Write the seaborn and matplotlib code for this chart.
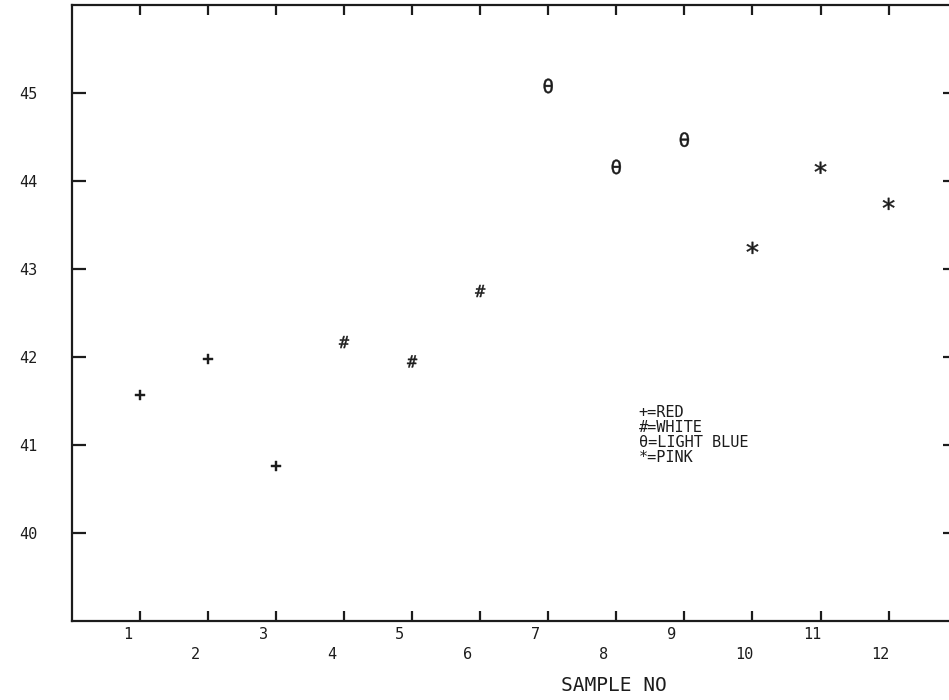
import pandas as pd
import matplotlib
matplotlib.use('Agg')
import matplotlib.pyplot as plt
import matplotlib.transforms as mtransforms
import seaborn as sns

# values
sample_no = [1, 2, 3, 4, 5, 6, 7, 8, 9, 10, 11, 12]
reading = [41.57, 41.98, 40.76, 42.17, 41.95, 42.75, 45.08, 44.16, 44.47, 43.24, 44.15, 43.74]
colour = ['RED', 'RED', 'RED', 'WHITE', 'WHITE', 'WHITE',
          'LIGHT BLUE', 'LIGHT BLUE', 'LIGHT BLUE', 'PINK', 'PINK', 'PINK']
symbols = ['+', '#', 'θ', '*']
colour_names = ['RED', 'WHITE', 'LIGHT BLUE', 'PINK']
y_ticks = [40, 41, 42, 43, 44, 45]

df = pd.DataFrame({'sample': sample_no, 'reading': reading, 'colour': colour})

sns.set_theme(style='white')
plt.rcParams['font.family'] = ['DejaVu Sans Mono', 'DejaVu Sans']
ink = '#1c1c1c'

# glyph markers, like the old plotter output
marker_map = {'RED': r'$\mathregular{+}$', 'WHITE': r'$\mathregular{\#}$',
              'LIGHT BLUE': r'$\mathregular{θ}$', 'PINK': r'$\mathregular{*}$'}
size_map = {'RED': 55, 'WHITE': 75, 'LIGHT BLUE': 110, 'PINK': 75}

fig = plt.figure(figsize=(9.49, 7.0), dpi=100)
ax = fig.add_axes([71.7 / 949, 1 - 621 / 700, 885 / 949, 616 / 700])

sns.scatterplot(data=df, x='sample', y='reading', style='colour', markers=marker_map,
                size='colour', sizes=size_map, color=ink, edgecolor=ink, linewidth=0.3,
                legend=False, ax=ax)

ax.set_xlim(0, 13)
ax.set_ylim(39, 46)
ax.set_xticks(sample_no)
ax.set_yticks(y_ticks)
ax.set_yticklabels([str(v) for v in y_ticks])

for side in ['left', 'right', 'top', 'bottom']:
    ax.spines[side].set_visible(True)
    ax.spines[side].set_color(ink)
    ax.spines[side].set_linewidth(1.6)

ax.tick_params(direction='in', bottom=True, left=True, top=True, right=True,
               length=7, width=1.6, color=ink, labelcolor=ink, labelsize=11)
ax.tick_params(axis='y', pad=25, length=10)
ax.tick_params(axis='x', pad=4)

# staggered x labels, shifted left of their ticks
for i, lab in enumerate(ax.get_xticklabels()):
    lab.set_ha('left')
    dy = -0.2 if i % 2 == 1 else 0.0
    lab.set_transform(lab.get_transform() + mtransforms.ScaledTranslation(-0.17, dy, fig.dpi_scale_trans))

ax.set_xlabel('SAMPLE NO', fontsize=14, color=ink)
ax.set_ylabel('')
ax.xaxis.set_label_coords(0.613, -0.089)

key_text = '\n'.join(s + '=' + c for s, c in zip(symbols, colour_names))
ax.text(8.33, 41.45, key_text, fontsize=11, color=ink, ha='left', va='top', linespacing=1.0)

fig.savefig('out.png', dpi=100, facecolor='white')
